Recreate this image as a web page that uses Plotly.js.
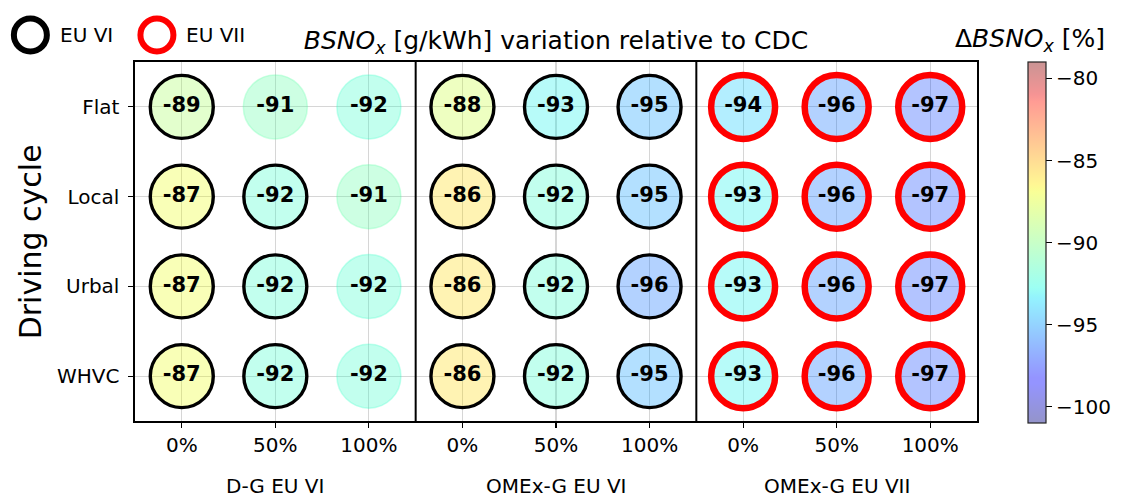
<!DOCTYPE html>
<html>
<head>
<meta charset="utf-8">
<script src="https://cdn.plot.ly/plotly-3.0.1.min.js"></script>
<style>
  html, body { margin: 0; padding: 0; background: #fff; }
  #chart { width: 1124px; height: 497px; }
</style>
</head>
<body>
<div id="chart"></div>
<script>
// Driving cycles (rows, top to bottom) and per-configuration column labels
const cycles = ['Flat', 'Local', 'Urbal', 'WHVC'];
const shares = ['0%', '50%', '100%'];
const groups = ['D-G EU VI', 'OMEx-G EU VI', 'OMEx-G EU VII'];

// Change in BSNOx [%] per cycle, one array per column (values listed Flat, Local, Urbal, WHVC)
const dgEU6_0   = [-89, -87, -87, -87];
const dgEU6_50  = [-91, -92, -92, -92];
const dgEU6_100 = [-92, -91, -92, -92];
const omEU6_0   = [-88, -86, -86, -86];
const omEU6_50  = [-93, -92, -92, -92];
const omEU6_100 = [-95, -95, -96, -95];
const omEU7_0   = [-94, -93, -93, -93];
const omEU7_50  = [-96, -96, -96, -96];
const omEU7_100 = [-97, -97, -97, -97];

// Emission standard met by each cell ('' = none), same layout as the values
const dgEU6_0_std   = ['EU VI', 'EU VI', 'EU VI', 'EU VI'];
const dgEU6_50_std  = ['', 'EU VI', 'EU VI', 'EU VI'];
const dgEU6_100_std = ['', '', '', ''];
const omEU6_0_std   = ['EU VI', 'EU VI', 'EU VI', 'EU VI'];
const omEU6_50_std  = ['EU VI', 'EU VI', 'EU VI', 'EU VI'];
const omEU6_100_std = ['EU VI', 'EU VI', 'EU VI', 'EU VI'];
const omEU7_0_std   = ['EU VII', 'EU VII', 'EU VII', 'EU VII'];
const omEU7_50_std  = ['EU VII', 'EU VII', 'EU VII', 'EU VII'];
const omEU7_100_std = ['EU VII', 'EU VII', 'EU VII', 'EU VII'];

const columns = [dgEU6_0, dgEU6_50, dgEU6_100, omEU6_0, omEU6_50, omEU6_100, omEU7_0, omEU7_50, omEU7_100];
const standards = [dgEU6_0_std, dgEU6_50_std, dgEU6_100_std, omEU6_0_std, omEU6_50_std, omEU6_100_std,
                   omEU7_0_std, omEU7_50_std, omEU7_100_std];

const cMin = -101, cMax = -79;

// Jet colormap, semi-transparent
const jet = {
  r: [[0, 0], [0.35, 0], [0.66, 1], [0.89, 1], [1, 0.5]],
  g: [[0, 0], [0.125, 0], [0.375, 1], [0.64, 1], [0.91, 0], [1, 0]],
  b: [[0, 0.5], [0.11, 1], [0.34, 1], [0.65, 0], [1, 0]]
};
function chan(seg, t) {
  for (let i = 1; i < seg.length; i++) {
    if (t <= seg[i][0]) {
      const [t0, v0] = seg[i - 1], [t1, v1] = seg[i];
      return v0 + (v1 - v0) * (t - t0) / (t1 - t0);
    }
  }
  return seg[seg.length - 1][1];
}
const stops = [0, 0.11, 0.125, 0.34, 0.35, 0.375, 0.64, 0.65, 0.66, 0.89, 0.91, 1];
const alpha = 0.42;
const jetScale = stops.map(t => {
  const c = ['r', 'g', 'b'].map(k => Math.round(255 * chan(jet[k], t)));
  return [t, `rgba(${c[0]},${c[1]},${c[2]},${alpha})`];
});

// Flatten the grid into point lists
const xs = [], ys = [], vals = [], stds = [];
columns.forEach((col, ci) => {
  col.forEach((v, ri) => {
    xs.push(ci); ys.push(ri); vals.push(v); stds.push(standards[ci][ri]);
  });
});

const ringStyle = {
  'EU VI':  { color: '#000000', size: 63, width: 3.4 },
  'EU VII': { color: '#ff0000', size: 64, width: 6.5 },
  '':       { color: null, size: 64, width: 0 }
};

const traces = [];

// Filled discs coloured by value, with the value printed inside
traces.push({
  type: 'scatter', mode: 'markers+text', x: xs, y: ys,
  text: vals.map(v => String(v)),
  textposition: 'middle center',
  textfont: { family: 'DejaVu Sans', size: 21, color: '#000', weight: 'bold' },
  marker: {
    symbol: 'circle',
    size: stds.map(s => ringStyle[s].size),
    color: vals, cmin: cMin, cmax: cMax, colorscale: jetScale,
    line: { color: vals, cmin: cMin, cmax: cMax, colorscale: jetScale, width: 1.5 },
    showscale: true,
    colorbar: {
      x: 1.0604, xanchor: 'left', xref: 'paper',
      y: 0.497, yanchor: 'middle',
      len: 361, lenmode: 'pixels', thickness: 18,
      outlinecolor: '#222', outlinewidth: 1.2,
      tickmode: 'array', tickvals: [-80, -85, -90, -95, -100],
      tickprefix: '\u00a0\u00a0',
      ticks: 'outside', ticklen: 6, tickwidth: 1.2, tickcolor: '#000',
      tickfont: { family: 'DejaVu Sans', size: 20, color: '#000' },
      ypad: 0, xpad: 0
    }
  },
  hoverinfo: 'skip', showlegend: false
});

// Outline rings marking which standard each configuration meets
['EU VI', 'EU VII'].forEach(std => {
  const idx = stds.map((s, i) => s === std ? i : -1).filter(i => i >= 0);
  const st = ringStyle[std];
  traces.push({
    type: 'scatter', mode: 'markers',
    x: idx.map(i => xs[i]), y: idx.map(i => ys[i]),
    marker: { symbol: 'circle', size: st.size, color: 'rgba(0,0,0,0)',
              line: { color: st.color, width: st.width } },
    hoverinfo: 'skip', showlegend: false
  });
});

// Pixel helpers for paper coordinates
const L = 135, R = 980, T = 62, B = 421;
const px = p => (p - L) / (R - L);
const py = p => (B - p) / (B - T);

const annotations = [
  { text: 'Driving cycle', x: px(30), y: py(242), xref: 'paper', yref: 'paper',
    textangle: -90, showarrow: false, font: { family: 'DejaVu Sans', size: 30, color: '#000' },
    xanchor: 'center', yanchor: 'middle' },
  { text: 'Δ<i>BSNO</i><sub><i>x</i></sub> [%]', x: px(1033), y: py(40), xref: 'paper', yref: 'paper',
    showarrow: false, font: { family: 'DejaVu Sans', size: 25, color: '#000' },
    xanchor: 'center', yanchor: 'middle' },
  { text: 'EU VI', x: px(58), y: py(35), xref: 'paper', yref: 'paper', showarrow: false,
    font: { family: 'DejaVu Sans', size: 20, color: '#000' }, xanchor: 'left', yanchor: 'middle' },
  { text: 'EU VII', x: px(184), y: py(35), xref: 'paper', yref: 'paper', showarrow: false,
    font: { family: 'DejaVu Sans', size: 20, color: '#000' }, xanchor: 'left', yanchor: 'middle' }
];
groups.forEach((g, gi) => {
  annotations.push({
    text: g, x: gi * 3 + 1, y: py(486), xref: 'x', yref: 'paper', showarrow: false,
    font: { family: 'DejaVu Sans', size: 20, color: '#000' }, xanchor: 'center', yanchor: 'middle'
  });
});

const shapes = [
  // separators between configuration groups
  { type: 'line', xref: 'x', yref: 'paper', x0: 2.5, x1: 2.5, y0: 0, y1: 1, line: { color: '#000', width: 2 } },
  { type: 'line', xref: 'x', yref: 'paper', x0: 5.5, x1: 5.5, y0: 0, y1: 1, line: { color: '#000', width: 2 } },
  // legend glyphs
  { type: 'circle', xref: 'paper', yref: 'paper', xsizemode: 'pixel', ysizemode: 'pixel',
    xanchor: px(30), yanchor: py(35), x0: -16.5, x1: 16.5, y0: -16.5, y1: 16.5,
    line: { color: '#000', width: 6 } },
  { type: 'circle', xref: 'paper', yref: 'paper', xsizemode: 'pixel', ysizemode: 'pixel',
    xanchor: px(157), yanchor: py(35), x0: -16.5, x1: 16.5, y0: -16.5, y1: 16.5,
    line: { color: '#ff0000', width: 6 } }
];

const tickX = [];
groups.forEach(() => shares.forEach(s => tickX.push(s)));

const layout = {
  width: 1124, height: 497,
  margin: { l: L, r: 1124 - R, t: T, b: 497 - B, pad: 0 },
  paper_bgcolor: '#fff', plot_bgcolor: '#fff',
  font: { family: 'DejaVu Sans', color: '#000' },
  title: {
    text: '<i>BSNO</i><sub><i>x</i></sub> [g/kWh] variation relative to CDC',
    font: { family: 'DejaVu Sans', size: 25, color: '#000' },
    x: 0.5, xref: 'paper', xanchor: 'center', y: 1 - 40 / 497, yanchor: 'middle'
  },
  xaxis: {
    range: [-0.5, 8.5], tickmode: 'array', tickvals: tickX.map((_, i) => i), ticktext: tickX,
    showgrid: true, gridcolor: '#d6d6d6', gridwidth: 1.2, zeroline: false,
    showline: true, linecolor: '#000', linewidth: 1.6, mirror: true,
    ticks: 'outside', ticklen: 5, tickwidth: 1.2, tickcolor: '#000',
    tickfont: { family: 'DejaVu Sans', size: 20, color: '#000' }, fixedrange: true
  },
  yaxis: {
    range: [3.5, -0.5], tickmode: 'array', tickvals: [0, 1, 2, 3], ticktext: cycles,
    showgrid: true, gridcolor: '#d6d6d6', gridwidth: 1.2, zeroline: false,
    showline: true, linecolor: '#000', linewidth: 1.6, mirror: true,
    ticks: 'outside', ticklen: 5, tickwidth: 1.2, tickcolor: '#000',
    ticklabelstandoff: 5,
    tickfont: { family: 'DejaVu Sans', size: 20, color: '#000' }, fixedrange: true
  },
  annotations: annotations,
  shapes: shapes,
  showlegend: false
};

Plotly.newPlot('chart', traces, layout, { displayModeBar: false, staticPlot: true });
</script>
</body>
</html>
